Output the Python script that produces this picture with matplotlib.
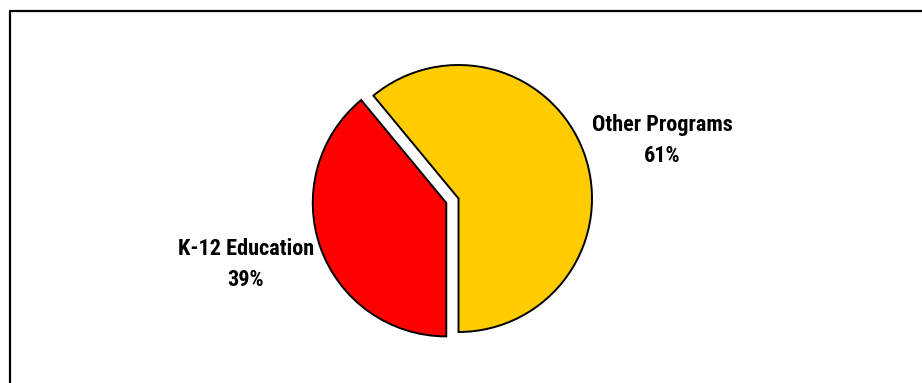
import matplotlib
matplotlib.use("Agg")
import matplotlib.pyplot as plt

plt.rcParams['font.family'] = ['Roboto Condensed', 'DejaVu Sans']

labels = ["Other Programs", "K-12 Education"]
shares = [61, 39]
colors = ["#FFCC00", "#FF0000"]

W, H = 922, 383
fig = plt.figure(figsize=(W / 100, H / 100), dpi=100)
ax = fig.add_axes([0, 0, 1, 1])

# pie in pixel coords (y measured from bottom)
cx, cy, r = 458.5, H - 198.5, 133.5
ax.pie(shares, colors=colors, startangle=-90, counterclock=True,
       explode=[0, 13], center=(cx, cy), radius=r, frame=True,
       wedgeprops=dict(edgecolor="black", linewidth=1.4))
ax.set_xlim(0, W)
ax.set_ylim(0, H)
ax.set_aspect("equal")
ax.axis("off")

# labels
label_pos = [(662, H - 125), (246, H - 249)]
for lab, val, (x, y) in zip(labels, shares, label_pos):
    ax.text(x, y, lab, ha="center", va="center", fontsize=16, fontweight="bold")
    ax.text(x, y - 31, f"{val}%", ha="center", va="center", fontsize=16, fontweight="bold")

# outer frame (top and left edges visible)
ax.plot([10, 10, W], [0, H - 11, H - 11], color="black", linewidth=1.6,
        solid_capstyle="projecting", clip_on=False)

fig.savefig("out.png", dpi=100, facecolor="white")
